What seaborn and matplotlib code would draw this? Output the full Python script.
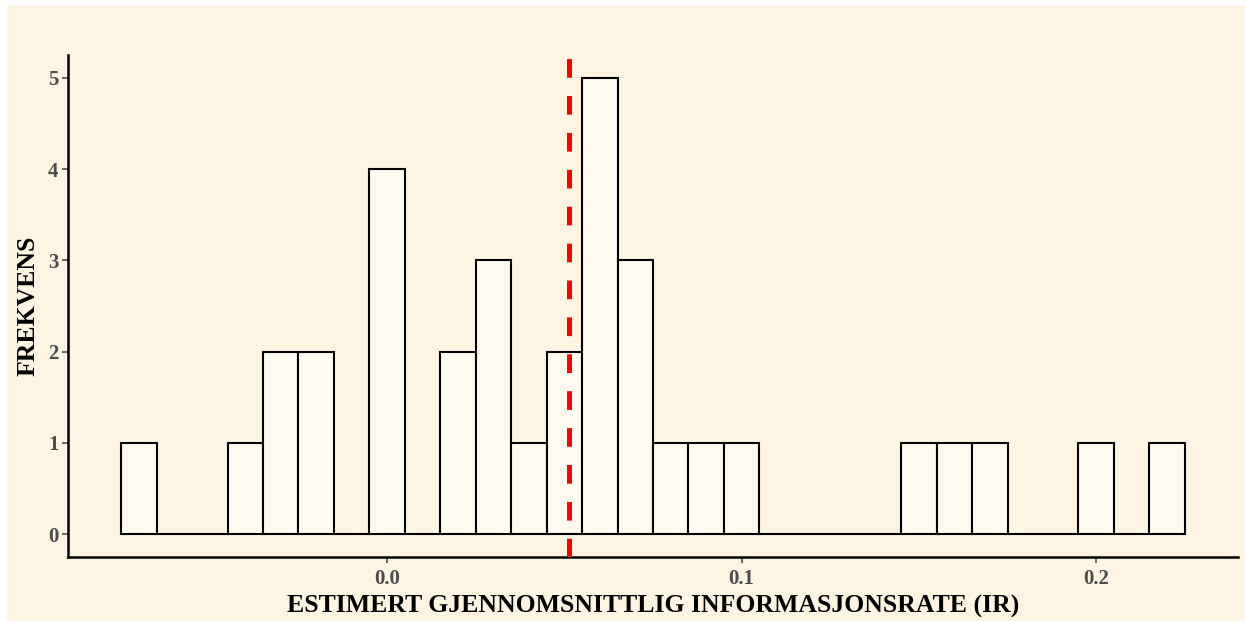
import matplotlib
matplotlib.use("Agg")
import matplotlib.pyplot as plt
import numpy as np
import pandas as pd
import seaborn as sns

# Histogram of estimated mean information ratio (IR): 30 bins of width 0.01
bin_start = -0.075
bin_width = 0.01
counts = [1, 0, 0, 1, 2, 2, 0, 4, 0, 2,
          3, 1, 2, 5, 3, 1, 1, 1, 0, 0,
          0, 0, 1, 1, 1, 0, 0, 1, 0, 1]
mean_ir = 0.0513
x_ticks = [0.0, 0.1, 0.2]
x_tick_labels = ["0.0", "0.1", "0.2"]
y_ticks = [0, 1, 2, 3, 4, 5]

edges = [bin_start + bin_width * i for i in range(len(counts) + 1)]
centers = [(a + b) / 2 for a, b in zip(edges[:-1], edges[1:])]
df = pd.DataFrame({"ir": centers, "n": counts})

BG = "#FDF5E1"
BAR = "#FFFAF0"

sns.set_theme(style="ticks")
plt.rcParams["font.family"] = ["Liberation Serif", "DejaVu Serif"]

fig = plt.figure(figsize=(12.45, 6.21), dpi=100, facecolor="white")
fig.patches.append(plt.Rectangle((7 / 1245, 0), 1 - 7 / 1245, 1 - 6 / 621,
                                 transform=fig.transFigure, facecolor=BG,
                                 edgecolor="none", zorder=-10))
ax = fig.add_axes([68 / 1245, (621 - 557) / 621, (1238 - 68) / 1245, (557 - 55) / 621])
ax.set_facecolor(BG)

sns.histplot(data=df, x="ir", weights="n", bins=edges, ax=ax,
             color=BAR, alpha=1, edgecolor="black", linewidth=1.5)

# mean marker: dashed red vertical line
ax.axvline(mean_ir, color="#FF0000", linewidth=3.6,
           linestyle=(0, (3.74, 3.64)), zorder=5)

ax.set_xlim(-0.09, 0.24)
ax.set_ylim(-0.25, 5.25)
ax.set_xticks(x_ticks)
ax.set_xticklabels(x_tick_labels)
ax.set_yticks(y_ticks)

for side in ["top", "right"]:
    ax.spines[side].set_visible(False)
for side in ["left", "bottom"]:
    ax.spines[side].set_linewidth(1.8)
    ax.spines[side].set_color("black")

ax.tick_params(axis="both", length=4, width=1.2, color="#4D4D4D",
               labelcolor="#4D4D4D", labelsize=15, pad=3)
ax.tick_params(axis="x", pad=5)
for lab in ax.get_xticklabels() + ax.get_yticklabels():
    lab.set_fontweight("bold")

ax.set_xlabel("ESTIMERT GJENNOMSNITTLIG INFORMASJONSRATE (IR)",
              fontsize=18.5, fontweight="bold", color="black", labelpad=4)
ax.set_ylabel("FREKVENS", fontsize=18.5, fontweight="bold", color="black", labelpad=6)

fig.savefig("out.png", dpi=100, facecolor="white")
